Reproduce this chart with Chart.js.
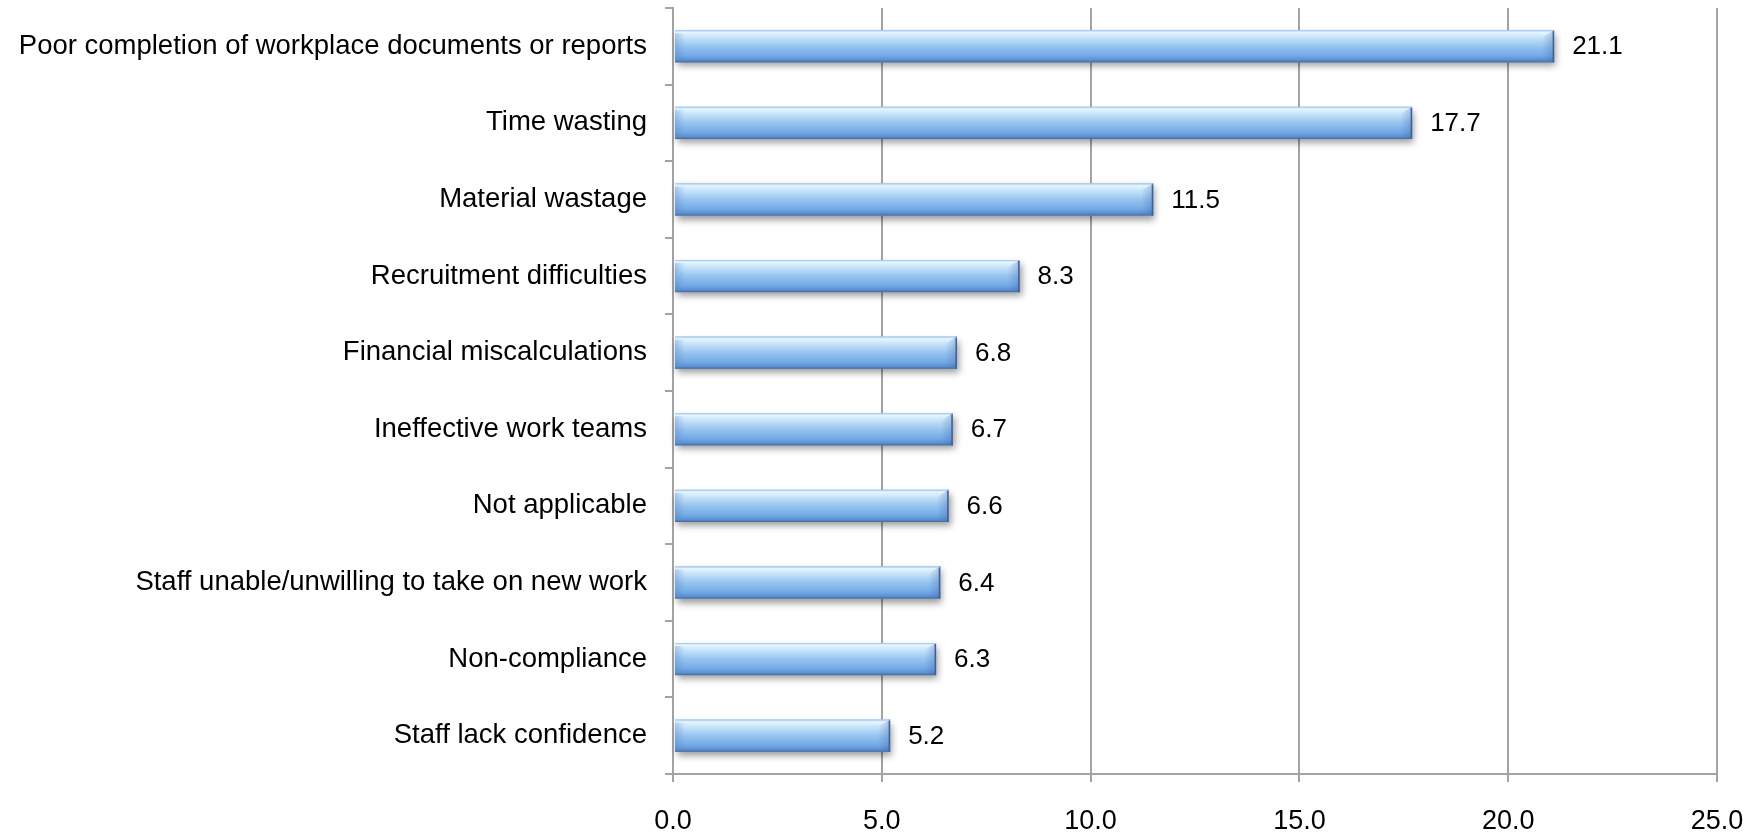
<!DOCTYPE html>
<html>
<head>
<meta charset="utf-8">
<title>Impact of poor skills</title>
<script src="https://cdn.jsdelivr.net/npm/chart.js@4"></script>
<style>
  html, body { margin: 0; padding: 0; background: #fff; }
  #wrap { width: 1760px; height: 832px; }
</style>
</head>
<body>
<div id="wrap"><canvas id="barChart" width="1760" height="832"></canvas></div>
<script>
var categories = [
  'Poor completion of workplace documents or reports',
  'Time wasting',
  'Material wastage',
  'Recruitment difficulties',
  'Financial miscalculations',
  'Ineffective work teams',
  'Not applicable',
  'Staff unable/unwilling to take on new work',
  'Non-compliance',
  'Staff lack confidence'
];
var percentages = [21.1, 17.7, 11.5, 8.3, 6.8, 6.7, 6.6, 6.4, 6.3, 5.2];
var xTicks = [0, 5, 10, 15, 20, 25];

var FONT = '"Liberation Sans", Arial, sans-serif';
var AXIS_GREY = '#a3a3a3';

// glossy blue bars, drawn from each bar element's geometry
var glossyBars = {
  id: 'glossyBars',
  afterDatasetsDraw: function (chart) {
    var ctx = chart.ctx;
    var meta = chart.getDatasetMeta(0);
    meta.data.forEach(function (bar) {
      var p = bar.getProps(['x', 'y', 'base', 'height'], true);
      var left = Math.min(p.base, p.x) + 1;
      var right = Math.max(p.base, p.x);
      var top = p.y - p.height / 2;
      var h = p.height;
      var w = right - left;

      ctx.save();
      // soft drop shadow
      ctx.shadowColor = 'rgba(0,0,0,0.4)';
      ctx.shadowBlur = 7;
      ctx.shadowOffsetX = 2;
      ctx.shadowOffsetY = 4;
      ctx.fillStyle = '#7fb2ea';
      ctx.fillRect(left, top, w, h);
      ctx.restore();

      ctx.save();
      var g = ctx.createLinearGradient(0, top, 0, top + h);
      g.addColorStop(0, '#b7d8f6');
      g.addColorStop(0.07, '#e6f5fe');
      g.addColorStop(0.2, '#cbe6fb');
      g.addColorStop(0.5, '#96c4f0');
      g.addColorStop(0.8, '#72a9e5');
      g.addColorStop(0.93, '#5b8fd0');
      g.addColorStop(1, '#41689f');
      ctx.fillStyle = g;
      ctx.fillRect(left, top, w, h);

      // bevelled right end
      var bev = Math.min(12, w / 3);
      var gr = ctx.createLinearGradient(right - bev, 0, right, 0);
      gr.addColorStop(0, 'rgba(60,100,170,0)');
      gr.addColorStop(1, 'rgba(60,100,170,0.35)');
      ctx.fillStyle = gr;
      ctx.beginPath();
      ctx.moveTo(right - bev, top + bev * 0.6);
      ctx.lineTo(right, top);
      ctx.lineTo(right, top + h);
      ctx.lineTo(right - bev, top + h - bev * 0.3);
      ctx.closePath();
      ctx.fill();

      // bevelled left end
      var gl = ctx.createLinearGradient(left, 0, left + 10, 0);
      gl.addColorStop(0, 'rgba(80,130,200,0.35)');
      gl.addColorStop(1, 'rgba(80,130,200,0)');
      ctx.fillStyle = gl;
      ctx.fillRect(left, top + 3, 10, h - 6);

      ctx.strokeStyle = '#3f5f97';
      ctx.lineWidth = 1.5;
      ctx.beginPath();
      ctx.moveTo(right - 0.75, top);
      ctx.lineTo(right - 0.75, top + h);
      ctx.stroke();
      ctx.strokeStyle = '#a9cdf1';
      ctx.lineWidth = 1;
      ctx.beginPath();
      ctx.moveTo(left, top + 0.5);
      ctx.lineTo(right, top + 0.5);
      ctx.stroke();
      ctx.restore();
    });
  }
};

// value printed just past the end of each bar
var valueLabels = {
  id: 'valueLabels',
  afterDatasetsDraw: function (chart) {
    var ctx = chart.ctx;
    var meta = chart.getDatasetMeta(0);
    ctx.save();
    ctx.font = '26px ' + FONT;
    ctx.fillStyle = '#000';
    ctx.textAlign = 'left';
    ctx.textBaseline = 'middle';
    meta.data.forEach(function (bar, i) {
      var v = chart.data.datasets[0].data[i];
      ctx.fillText(v.toFixed(1), bar.x + 18, bar.y + 1);
    });
    ctx.restore();
  }
};

var ctx = document.getElementById('barChart').getContext('2d');
var chartInstance = new Chart(ctx, {
  type: 'bar',
  data: {
    labels: categories,
    datasets: [{
      label: 'Per cent',
      data: percentages,
      backgroundColor: 'rgba(0,0,0,0)',
      borderWidth: 0,
      barPercentage: 0.42,
      categoryPercentage: 1
    }]
  },
  options: {
    indexAxis: 'y',
    responsive: false,
    animation: false,
    layout: { padding: { top: 8, right: 43, left: 0, bottom: 0 } },
    plugins: {
      legend: { display: false },
      tooltip: { enabled: false }
    },
    scales: {
      x: {
        min: 0,
        max: 25,
        afterBuildTicks: function (scale) {
          scale.ticks = xTicks.map(function (v) { return { value: v }; });
        },
        afterFit: function (scale) {
          scale.height = 58;
          scale.paddingLeft = 0;
          scale.paddingRight = 0;
        },
        grid: { color: AXIS_GREY, lineWidth: 2, tickLength: 8, drawTicks: true },
        border: { color: AXIS_GREY, width: 2 },
        ticks: {
          color: '#000',
          font: { family: FONT, size: 27 },
          padding: 23,
          maxRotation: 0,
          callback: function (v) { return Number(v).toFixed(1); }
        }
      },
      y: {
        afterFit: function (scale) {
          scale.width = 673;
          scale.paddingTop = 0;
          scale.paddingBottom = 0;
        },
        grid: { offset: true, drawOnChartArea: false, color: AXIS_GREY, lineWidth: 2, tickLength: 8 },
        border: { color: AXIS_GREY, width: 2 },
        ticks: {
          color: '#000',
          font: { family: FONT, size: 27.5 },
          padding: 18,
          autoSkip: false
        }
      }
    }
  },
  plugins: [glossyBars, valueLabels]
});
</script>
</body>
</html>
